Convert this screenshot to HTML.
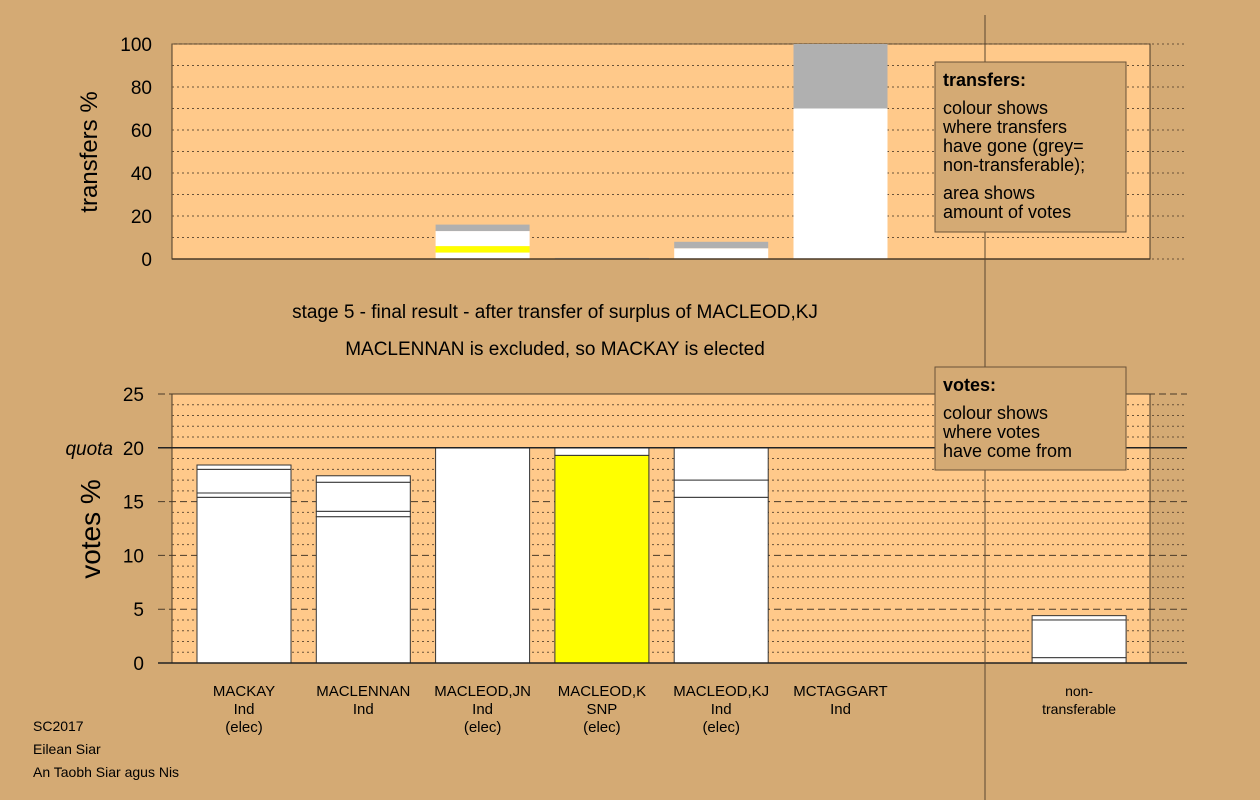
<!DOCTYPE html>
<html><head><meta charset="utf-8"><style>
body{margin:0;background:#d4aa74;}
svg{display:block;font-family:"Liberation Sans",sans-serif;}
</style></head><body>
<svg id="c" width="1260" height="800" viewBox="0 0 1260 800">
<rect width="1260" height="800" fill="#d4aa74"/>
<g id="topPanel"></g><g id="botPanel"></g>
<line x1="985" y1="15" x2="985" y2="800" stroke="#5a4630" stroke-width="1"/>
<text x="0" y="0" transform="translate(97,152) rotate(-90)" text-anchor="middle" font-size="24">transfers %</text>
<text x="0" y="0" transform="translate(100,529) rotate(-90)" text-anchor="middle" font-size="28">votes %</text>
<text x="555" y="318" text-anchor="middle" font-size="19">stage 5 - final result - after transfer of surplus of MACLEOD,KJ</text>
<text x="555" y="355" text-anchor="middle" font-size="19">MACLENNAN is excluded, so MACKAY is elected</text>
<g>
<rect x="935" y="62" width="191" height="170" fill="#d4aa74" stroke="#6a5238"/>
<text x="943" y="86" font-size="18" font-weight="bold">transfers:</text>
<text font-size="18"><tspan x="943" y="114">colour shows</tspan><tspan x="943" y="133">where transfers</tspan><tspan x="943" y="152">have gone (grey=</tspan><tspan x="943" y="171">non-transferable);</tspan><tspan x="943" y="199">area shows</tspan><tspan x="943" y="218">amount of votes</tspan></text>
</g>
<g>
<rect x="935" y="367" width="191" height="103" fill="#d4aa74" stroke="#6a5238"/>
<text x="943" y="391" font-size="18" font-weight="bold">votes:</text>
<text font-size="18"><tspan x="943" y="419">colour shows</tspan><tspan x="943" y="438">where votes</tspan><tspan x="943" y="457">have come from</tspan></text>
</g>
<text font-size="14"><tspan x="33" y="731">SC2017</tspan><tspan x="33" y="754">Eilean Siar</tspan><tspan x="33" y="777">An Taobh Siar agus Nis</tspan></text>
</svg>
<script>
const categories=["MACKAY","MACLENNAN","MACLEOD,JN","MACLEOD,K","MACLEOD,KJ","MCTAGGART","","non-"];
const parties=["Ind","Ind","Ind","SNP","Ind","Ind","","transferable"];
const status=["(elec)","","(elec)","(elec)","(elec)","","",""];
// transfer segments: [value, colour] stacked
const transferSegs=[[],[],[[3,"#fff"],[3,"#ffff00"],[7,"#fff"],[3,"#b0b0b0"]],[[0.5,"#b0b0b0"]],[[5,"#fff"],[3,"#b0b0b0"]],[[70,"#fff"],[30,"#b0b0b0"]],[],[]];
// vote segments
const voteSegs=[[15.4,0.4,2.2,0.4],[13.6,0.5,2.7,0.6],[20],[[19.3,"#ffff00"],0.7],[15.4,1.6,3.0],[0],[],[0.5,3.5,0.4]];
const topTicks=[0,20,40,60,80,100];
const botTicks=[0,5,10,15,20,25];
const quota=20;
const NS="http://www.w3.org/2000/svg";
const X0=172,X1=1150,colW=119.3,barW=94;
const cx=i=>244+i*colW;
const yT=v=>259-v*2.15;
const yB=v=>663-v*10.76;
function mk(p,t,a){const e=document.createElementNS(NS,t);for(const k in a)e.setAttribute(k,a[k]);p.appendChild(e);return e;}
const topG=document.getElementById('topPanel'),botG=document.getElementById('botPanel');
let r=mk(topG,'rect',{x:X0,y:yT(100),width:X1-X0,height:yT(0)-yT(100),fill:'#ffc98a',stroke:'#4a3a28'});


for(let v=0;v<=100;v+=10){let l=mk(topG,'line',{x1:X0,x2:1187,y1:yT(v),y2:yT(v),stroke:'#6a5238','stroke-dasharray':'2,3','stroke-width':1});

}
topTicks.forEach(v=>{let t=mk(topG,'text',{x:152,y:yT(v)+7,'text-anchor':'end','font-size':19});t.textContent=v;

});
transferSegs.forEach((segs,i)=>{let acc=0;segs.forEach(s=>{let b=mk(topG,'rect',{x:cx(i)-barW/2,y:yT(acc+s[0]),width:barW,height:s[0]*2.15,fill:s[1]});

acc+=s[0];});});
mk(topG,'line',{x1:X0,x2:X1,y1:yT(0),y2:yT(0),stroke:'#4a3a28','stroke-width':1.5});
r=mk(botG,'rect',{x:X0,y:yB(25),width:X1-X0,height:yB(0)-yB(25),fill:'#ffc98a',stroke:'#4a3a28'});


for(let v=0;v<=25;v++){if(v%5==0)continue;let l=mk(botG,'line',{x1:X0,x2:1187,y1:yB(v),y2:yB(v),stroke:'#6a5238','stroke-dasharray':'2,3'});

}
botTicks.forEach(v=>{if(v!==0&&v!==quota){let l=mk(botG,'line',{x1:158,x2:1187,y1:yB(v),y2:yB(v),stroke:'#4a3a28','stroke-dasharray':'7,4'});

}
let t=mk(botG,'text',{x:144,y:yB(v)+7,'text-anchor':'end','font-size':19});t.textContent=v;

});
voteSegs.forEach((segs,i)=>{let acc=0;segs.forEach(s=>{let v=Array.isArray(s)?s[0]:s,c=Array.isArray(s)?s[1]:'#fff';if(v<=0)return;
let b=mk(botG,'rect',{x:cx(i)-barW/2,y:yB(acc+v),width:barW,height:v*10.76,fill:c,stroke:'#333','stroke-width':1});

acc+=v;});});
let q=mk(botG,'line',{x1:158,x2:1187,y1:yB(quota),y2:yB(quota),stroke:'#222','stroke-width':1.5});


let qt=mk(botG,'text',{x:113,y:yB(quota)+7,'text-anchor':'end','font-size':19,'font-style':'italic'});qt.textContent='quota';


mk(botG,'line',{x1:158,x2:1187,y1:yB(0),y2:yB(0),stroke:'#222','stroke-width':1.5});
categories.forEach((c,i)=>{[c,parties[i],status[i]].forEach((s,k)=>{if(!s)return;let t=mk(botG,'text',{x:cx(i),y:696+k*18,'text-anchor':'middle','font-size':i==7?14:15});t.textContent=s;

});});
</script>
</body></html>
